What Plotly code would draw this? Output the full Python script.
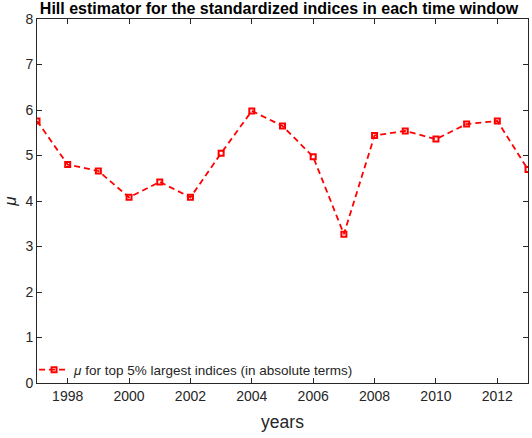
import plotly.graph_objects as go

# Hill estimator of the tail index per yearly window
years = [1997, 1998, 1999, 2000, 2001, 2002, 2003, 2004, 2005,
         2006, 2007, 2008, 2009, 2010, 2011, 2012, 2013]
mu_values = [5.76, 4.80, 4.66, 4.08, 4.42, 4.08, 5.05, 5.98, 5.65,
             4.97, 3.27, 5.44, 5.54, 5.36, 5.69, 5.76, 4.69]

x_ticks = [1998, 2000, 2002, 2004, 2006, 2008, 2010, 2012]
y_ticks = [0, 1, 2, 3, 4, 5, 6, 7, 8]

FONT = "Liberation Sans, Arial, Helvetica, sans-serif"
AXIS_COLOR = "#262626"

fig = go.Figure()
fig.add_trace(go.Scatter(
    x=years, y=mu_values,
    mode="lines+markers",
    name="<i>μ</i> for top 5% largest indices (in absolute terms)",
    line=dict(color="#ff0000", width=1.8, dash="6px,4px"),
    marker=dict(symbol="square-open", size=5, color="#ff0000",
                line=dict(color="#ff0000", width=2)),
))

axis_common = dict(
    showline=True, linecolor=AXIS_COLOR, linewidth=1,
    mirror="ticks", ticks="inside", ticklen=5, tickcolor=AXIS_COLOR,
    tickwidth=1, showgrid=False, zeroline=False,
    tickfont=dict(family=FONT, size=14, color=AXIS_COLOR),
)

fig.update_xaxes(
    range=[1997, 2013], tickvals=x_ticks,
    title=dict(text="years", font=dict(family=FONT, size=17.5, color=AXIS_COLOR),
               standoff=12),
    **axis_common,
)
fig.update_yaxes(
    range=[0, 8], tickvals=y_ticks,
    title=dict(text="<i>μ</i>", font=dict(family=FONT, size=17, color=AXIS_COLOR),
               standoff=4),
    **axis_common,
)

fig.update_layout(
    width=532, height=438,
    margin=dict(l=37, r=4, t=19, b=55),
    paper_bgcolor="white", plot_bgcolor="white",
    title=dict(
        text="<b>Hill estimator for the standardized indices in each time window</b>",
        font=dict(family=FONT, size=16, color="black"),
        xref="container", x=279 / 532, xanchor="center",
        yref="container", y=1 - 8 / 438, yanchor="middle",
    ),
    legend=dict(
        x=-0.006, y=0.036, xanchor="left", yanchor="middle",
        bgcolor="rgba(255,255,255,0)", borderwidth=0,
        font=dict(family=FONT, size=13.5, color=AXIS_COLOR),
        itemwidth=30,
    ),
    showlegend=True,
)

fig.write_html("out.html")
